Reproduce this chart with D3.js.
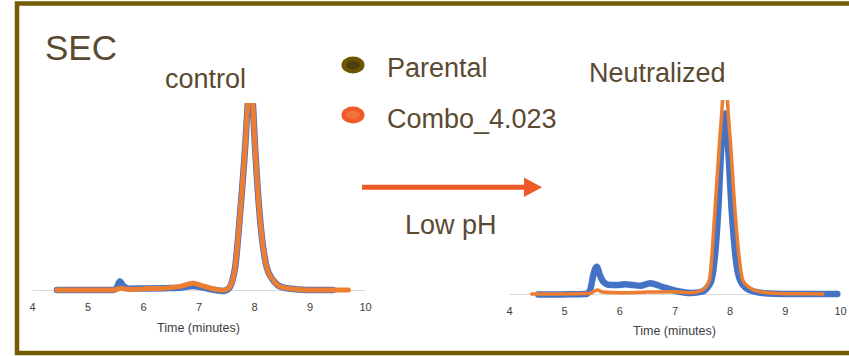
<!DOCTYPE html>
<html><head><meta charset="utf-8">
<script src="https://cdn.jsdelivr.net/npm/d3@7"></script>
<style>html,body{margin:0;padding:0;background:#fff;}svg{display:block;}</style>
</head><body>
<svg id="chart" width="849" height="356"></svg>
<script>
// ---- Data ----
const xTicks = [4, 5, 6, 7, 8, 9, 10];
const seriesNames = ["Parental", "Combo_4.023"];
const panelTitles = ["control", "Neutralized"];

// control panel
const ctrlParentalTime = [4.45, 5.0, 5.45, 5.52, 5.58, 5.65, 5.75, 6.0, 6.4, 6.65, 6.9, 7.1, 7.3, 7.45, 7.55, 7.61, 7.66, 7.75, 7.84, 7.89, 7.93, 7.97, 8.02, 8.1, 8.23, 8.35, 8.5, 8.8, 9.1, 9.42];
const ctrlParentalSignal = [0, 0, 0, 0.8, 4.5, 2, 0.7, 0.8, 1.0, 1.2, 2.2, 1.2, 0, -0.5, 1, 5, 12, 41, 76, 100, 112, 104, 76, 41, 12, 5, 1.5, 0.3, 0, 0];
const ctrlComboTime = [4.45, 5.0, 5.45, 5.52, 5.6, 5.68, 5.8, 6.0, 6.4, 6.65, 6.9, 7.1, 7.3, 7.45, 7.55, 7.61, 7.66, 7.75, 7.84, 7.89, 7.93, 7.97, 8.02, 8.1, 8.23, 8.35, 8.5, 8.8, 9.1, 9.45, 9.7];
const ctrlComboSignal = [0, 0, 0, 0.3, 1.0, 0.5, 0.3, 0.6, 1.0, 1.8, 3.6, 2, 0.4, -0.2, 1.2, 5, 12, 41, 76, 100, 112, 104, 76, 41, 12, 5, 1.5, 0.3, 0, 0, 0];

// neutralized panel
const neutParentalTime = [4.53, 5.0, 5.4, 5.47, 5.53, 5.59, 5.65, 5.72, 5.8, 5.95, 6.1, 6.25, 6.38, 6.56, 6.75, 7.0, 7.3, 7.5, 7.6, 7.67, 7.79, 7.85, 7.92, 7.97, 8.04, 8.12, 8.19, 8.3, 8.45, 8.7, 9.2, 9.95];
const neutParentalSignal = [-0.3, -0.2, 0, 2, 10, 14, 9.5, 6, 4.8, 4.6, 5, 4.6, 4.2, 5.6, 4, 1.8, 0.5, 1.2, 3.5, 7, 41.6, 76, 93, 76, 41.6, 16, 7, 3, 1.2, 0.3, 0, 0];
const neutComboTime = [4.41, 5.0, 5.45, 5.55, 5.6, 5.7, 6.0, 6.5, 7.0, 7.3, 7.5, 7.63, 7.73, 7.81, 7.87, 7.915, 7.96, 8.02, 8.1, 8.24, 8.35, 8.5, 8.8, 9.2, 9.69];
const neutComboSignal = [0, 0, 0.2, 1.5, 2, 1, 0.6, 1, 1.2, 0.6, 2, 7, 41.6, 76, 100, 130, 100, 76, 41.6, 7, 3.5, 1.5, 0.4, 0.1, 0];

// ---- Drawing ----
const svg = d3.select("#chart");
const textColor = "#5b4a32";
const blue = "#4472c4", orange = "#ed7d31", arrowColor = "#f05a28";
const font = "'Liberation Sans', Arial, sans-serif";

const zip = (t, v) => t.map((d, i) => ({t: d, v: v[i]}));

const panels = [
  {x0: 32, x1: 365, base: 290, top: 103, tickY: 311, titleY: 331.5, wBlue: 6.5, wOrange: 5,
   blueData: zip(ctrlParentalTime, ctrlParentalSignal), orangeData: zip(ctrlComboTime, ctrlComboSignal)},
  {x0: 509, x1: 840, base: 294, top: 100, tickY: 314.5, titleY: 335, wBlue: 6.5, wOrange: 3.5,
   blueData: zip(neutParentalTime, neutParentalSignal), orangeData: zip(neutComboTime, neutComboSignal)}
];

panels.forEach((p, i) => {
  const x = d3.scaleLinear().domain([4, 10]).range([p.x0, p.x1]);
  const y = d3.scaleLinear().domain([0, 100]).range([p.base, p.top]);
  const g = svg.append("g");
  const clipId = "clip" + i;
  svg.append("clipPath").attr("id", clipId).append("rect")
    .attr("x", p.x0 - 20).attr("y", p.top).attr("width", p.x1 - p.x0 + 40).attr("height", p.base - p.top + 30);

  // axis
  const axis = d3.axisBottom(x).tickValues(xTicks).tickSize(0).tickPadding(0).tickFormat(d3.format("d"));
  const ag = g.append("g").attr("transform", `translate(0,${p.base})`).call(axis);
  ag.select(".domain").attr("stroke", "#d9d9d9").attr("stroke-width", 1.2);
  ag.selectAll(".tick text").attr("y", p.tickY - p.base).attr("dy", 0)
    .attr("fill", "#404040").attr("font-family", font).attr("font-size", "11px");

  g.append("text").attr("x", (p.x0 + p.x1) / 2).attr("y", p.titleY).attr("text-anchor", "middle")
    .attr("fill", "#404040").attr("font-family", font).attr("font-size", "12.5px").text("Time (minutes)");

  const line = d3.line().x(d => x(d.t)).y(d => y(d.v)).curve(d3.curveMonotoneX);
  const lg = g.append("g").attr("clip-path", `url(#${clipId})`);
  lg.append("path").datum(p.blueData).attr("d", line).attr("fill", "none")
    .attr("stroke", blue).attr("stroke-width", p.wBlue).attr("stroke-linecap", "round").attr("stroke-linejoin", "round");
  lg.append("path").datum(p.orangeData).attr("d", line).attr("fill", "none")
    .attr("stroke", orange).attr("stroke-width", p.wOrange).attr("stroke-linecap", "round").attr("stroke-linejoin", "round");
});

// frame
svg.append("rect").attr("x", 17).attr("y", 3.5).attr("width", 860).attr("height", 349.5)
  .attr("fill", "none").attr("stroke", "#745d00").attr("stroke-width", 4.5);

// texts
const txt = (s, x, y, size, anchor) => svg.append("text").attr("x", x).attr("y", y)
  .attr("font-family", font).attr("font-size", size + "px").attr("fill", textColor)
  .attr("text-anchor", anchor || "start").text(s);
txt("SEC", 45, 60, 35);
txt(panelTitles[0], 165, 88, 27);
txt(panelTitles[1], 589, 82, 27);
txt("Low pH", 405, 234, 27);

// legend
const legend = [
  {name: seriesNames[0], cy: 65, outer: "#6b5500", inner: "#4e3f0c", ty: 77},
  {name: seriesNames[1], cy: 115, outer: "#f05a28", inner: "#f2703c", ty: 128}
];
legend.forEach(l => {
  svg.append("ellipse").attr("cx", 353).attr("cy", l.cy).attr("rx", 11.5).attr("ry", 8.5).attr("fill", l.outer);
  svg.append("ellipse").attr("cx", 353).attr("cy", l.cy).attr("rx", 7).attr("ry", 4.2).attr("fill", l.inner);
  txt(l.name, 387, l.ty, 27);
});

// arrow
svg.append("line").attr("x1", 362).attr("y1", 187.3).attr("x2", 527).attr("y2", 187.3)
  .attr("stroke", arrowColor).attr("stroke-width", 5);
svg.append("path").attr("d", "M524,177.5 L542,187.3 L524,197 Z").attr("fill", arrowColor);
</script>
</body></html>
